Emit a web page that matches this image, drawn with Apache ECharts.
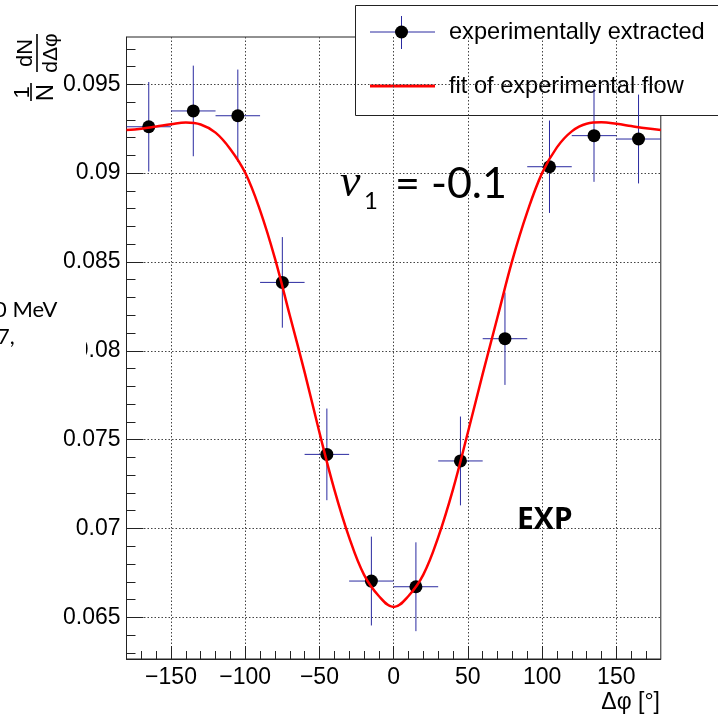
<!DOCTYPE html>
<html><head><meta charset="utf-8">
<script src="https://cdn.jsdelivr.net/npm/echarts@6/dist/echarts.min.js"></script>
<style>html,body{margin:0;padding:0;background:#fff}#c{width:718px;height:716px}</style>
</head><body><div id="c"></div>
<script>
// ---- data ----
const ptX    = [-165, -135, -105, -75, -45, -15, 15, 45, 75, 105, 135, 165];
const ptY    = [0.09261, 0.0935, 0.09323, 0.08385, 0.07417, 0.06704, 0.06672, 0.0738, 0.08068, 0.09036, 0.09211, 0.09192];
const ptXErr = [15, 15, 15, 15, 15, 15, 15, 15, 15, 15, 15, 15];
const ptYErr = [0.00252, 0.00255, 0.0026, 0.00255, 0.00258, 0.0025, 0.0025, 0.0025, 0.0026, 0.0026, 0.0026, 0.0025];

const fitX = [-180,-170,-160,-150,-140,-130,-120,-110,-100,-90,-80,-70,-60,-50,-40,-30,-20,-10,0,10,20,30,40,50,60,70,80,90,100,110,120,130,140,150,160,170,180];
const fitY = [0.09243,0.09250,0.09262,0.09275,0.09285,0.09274,0.09228,0.09135,0.09002,0.0879,0.0852,0.0820,0.0788,0.0754,0.0722,0.0695,0.0674,0.0662,0.06558,0.0662,0.0674,0.0695,0.0722,0.0754,0.0787,0.0819,0.0851,0.0878,0.0900,0.09145,0.09235,0.09278,0.09286,0.09278,0.09265,0.09252,0.09243];

const xMajor = [-150, -100, -50, 0, 50, 100, 150];
const xMinor = [-170,-160,-140,-130,-120,-110,-90,-80,-70,-60,-40,-30,-20,-10,10,20,30,40,60,70,80,90,110,120,130,140,160,170];
const yMajor = [0.065, 0.07, 0.075, 0.08, 0.085, 0.09, 0.095];
const yMinor = [0.063,0.064,0.066,0.067,0.068,0.069,0.071,0.072,0.073,0.074,0.076,0.077,0.078,0.079,0.081,0.082,0.083,0.084,0.086,0.087,0.088,0.089,0.091,0.092,0.093,0.094,0.096,0.097];

const legendNames = ['experimentally extracted', 'fit of experimental flow'];
const xTitle = 'Δφ [°]';
// ---------------------------------------

const barColor = '#2a2aa0';
const axisFont = "'Liberation Sans', Arial, sans-serif";

const chart = echarts.init(document.getElementById('c'), null, {renderer: 'canvas'});

const ptData = ptX.map((x, i) => [x, ptY[i], ptXErr[i], ptYErr[i]]);
const fitData = fitX.map((x, i) => [x, fitY[i]]);

const gridLine = {show: true, lineStyle: {color: '#444', width: 1, type: [1.5, 2]}};

const option = {
  animation: false,
  backgroundColor: '#fff',
  grid: {left: 126.5, right: 57.2, top: 37, bottom: 57, show: true, borderColor: '#222', borderWidth: 1, containLabel: false},
  xAxis: [
    {
      type: 'value', min: -180, max: 180, position: 'bottom',
      axisLine: {show: true, onZero: false, lineStyle: {color: '#222', width: 1}},
      axisTick: {show: true, inside: true, length: 13, customValues: xMajor, lineStyle: {color: '#222'}},
      axisLabel: {show: true, customValues: xMajor, margin: 7, fontSize: 23, color: '#000', fontFamily: axisFont,
        formatter: v => v < 0 ? '\u2212' + (-v) : String(v)},
      splitLine: gridLine
    },
    {
      type: 'value', min: -180, max: 180, position: 'bottom',
      axisLine: {show: false, onZero: false},
      axisTick: {show: true, inside: true, length: 8, customValues: xMinor, lineStyle: {color: '#222'}},
      axisLabel: {show: false},
      splitLine: {show: false}
    }
  ],
  yAxis: [
    {
      type: 'value', min: 0.062653, max: 0.097662, position: 'left',
      axisLine: {show: true, onZero: false, lineStyle: {color: '#222', width: 1}},
      axisTick: {show: true, inside: true, length: 17, customValues: yMajor, lineStyle: {color: '#222'}},
      axisLabel: {show: true, customValues: yMajor, margin: 6, fontSize: 23, color: '#000', fontFamily: axisFont,
        formatter: v => String(parseFloat(v.toFixed(4)))},
      splitLine: gridLine
    },
    {
      type: 'value', min: 0.062653, max: 0.097662, position: 'left',
      axisLine: {show: false, onZero: false},
      axisTick: {show: true, inside: true, length: 9, customValues: yMinor, lineStyle: {color: '#222'}},
      axisLabel: {show: false},
      splitLine: {show: false}
    }
  ],
  series: [
    {
      name: legendNames[0] + ' errors', type: 'custom', xAxisIndex: 0, yAxisIndex: 0, z: 2,
      data: ptData, encode: {x: 0, y: 1},
      renderItem: function (params, api) {
        const x = api.value(0), y = api.value(1), ex = api.value(2), ey = api.value(3);
        const l = api.coord([x - ex, y]), r = api.coord([x + ex, y]);
        const t = api.coord([x, y + ey]), b = api.coord([x, y - ey]);
        return {type: 'group', children: [
          {type: 'line', shape: {x1: l[0], y1: l[1], x2: r[0], y2: r[1]}, style: {stroke: barColor, lineWidth: 1}},
          {type: 'line', shape: {x1: t[0], y1: t[1], x2: b[0], y2: b[1]}, style: {stroke: barColor, lineWidth: 1}}
        ]};
      }
    },
    {
      name: legendNames[0], type: 'scatter', xAxisIndex: 0, yAxisIndex: 0, z: 3,
      data: ptX.map((x, i) => [x, ptY[i]]), symbol: 'circle', symbolSize: 13,
      itemStyle: {color: '#000', opacity: 1}
    },
    {
      name: legendNames[1], type: 'line', xAxisIndex: 0, yAxisIndex: 0, z: 4,
      data: fitData, smooth: 0.4, showSymbol: false, symbol: 'none',
      lineStyle: {color: '#ff0000', width: 2.5}
    }
  ],
  graphic: [
    // partial overlap of the "0.08" label (as in the reference)
    {type: 'rect', z: 50, shape: {x: 0, y: 336, width: 86, height: 28}, style: {fill: '#fff'}},
    {type: 'text', z: 60, x: -6, y: 310, style: {text: '0 MeV', font: "22px 'Lato', sans-serif", fill: '#000', verticalAlign: 'middle'}},
    {type: 'text', z: 60, x: -3, y: 337, style: {text: '7,', font: "22px 'Lato', sans-serif", fill: '#000', verticalAlign: 'middle'}},
    // y axis title (rotated fraction)
    {type: 'group', x: 14, y: 104, rotation: Math.PI / 2, z: 60, children: [
      {type: 'text', x: 11.5, y: 9, style: {text: '1', font: "22px 'Liberation Sans', Arial", fill: '#000', align: 'center', verticalAlign: 'middle'}},
      {type: 'line', shape: {x1: 3, y1: 17, x2: 21, y2: 17}, style: {stroke: '#000', lineWidth: 1.6}},
      {type: 'text', x: 11.5, y: 32, style: {text: 'N', font: "24px 'Liberation Sans', Arial", fill: '#000', align: 'center', verticalAlign: 'middle'}},
      {type: 'text', x: 51, y: 12, style: {text: 'dN', font: "22px 'Liberation Sans', Arial", fill: '#000', align: 'center', verticalAlign: 'middle'}},
      {type: 'line', shape: {x1: 32, y1: 23, x2: 70, y2: 23}, style: {stroke: '#000', lineWidth: 1.6}},
      {type: 'text', x: 51, y: 37, style: {text: 'dΔφ', font: "21px 'Liberation Sans', Arial", fill: '#000', align: 'center', verticalAlign: 'middle'}}
    ]},
    // v1 = -0.1
    {type: 'text', z: 60, x: 340, y: 184, style: {text: 'v', font: "italic 46px 'Liberation Serif', serif", fill: '#000', verticalAlign: 'middle'}},
    {type: 'text', z: 60, x: 364, y: 201, style: {text: '1', font: "24px 'Lato', sans-serif", fill: '#000', verticalAlign: 'middle'}},
    {type: 'text', z: 60, x: 395, y: 184, style: {text: '= -0.1', font: "43px 'Lato', sans-serif", fill: '#000', verticalAlign: 'middle'}},
    // EXP
    {type: 'text', z: 60, x: 517, y: 520, style: {text: 'EXP', font: "bold 30px 'Open Sans', sans-serif", fill: '#000', verticalAlign: 'middle'}},
    // x axis title
    {type: 'text', z: 60, x: 660, y: 703, style: {text: xTitle, font: "23px 'Liberation Sans', Arial", fill: '#000', align: 'right', verticalAlign: 'middle'}},
    // legend box
    {type: 'group', z: 100, children: [
      {type: 'rect', shape: {x: 355.5, y: 5.5, width: 420, height: 110}, style: {fill: '#fff', stroke: '#222', lineWidth: 1}},
      {type: 'line', shape: {x1: 370, y1: 32, x2: 435, y2: 32}, style: {stroke: barColor, lineWidth: 1}},
      {type: 'line', shape: {x1: 401.5, y1: 16, x2: 401.5, y2: 49}, style: {stroke: barColor, lineWidth: 1}},
      {type: 'circle', shape: {cx: 401.5, cy: 32, r: 6.5}, style: {fill: '#000'}},
      {type: 'text', x: 449, y: 32, style: {text: legendNames[0], font: "23.6px 'Liberation Sans', Arial", fill: '#000', verticalAlign: 'middle'}},
      {type: 'line', shape: {x1: 370, y1: 86, x2: 435, y2: 86}, style: {stroke: '#ff0000', lineWidth: 3}},
      {type: 'text', x: 449, y: 86, style: {text: legendNames[1], font: "23.6px 'Liberation Sans', Arial", fill: '#000', verticalAlign: 'middle'}}
    ]}
  ]
};
chart.setOption(option);
</script>
</body></html>
